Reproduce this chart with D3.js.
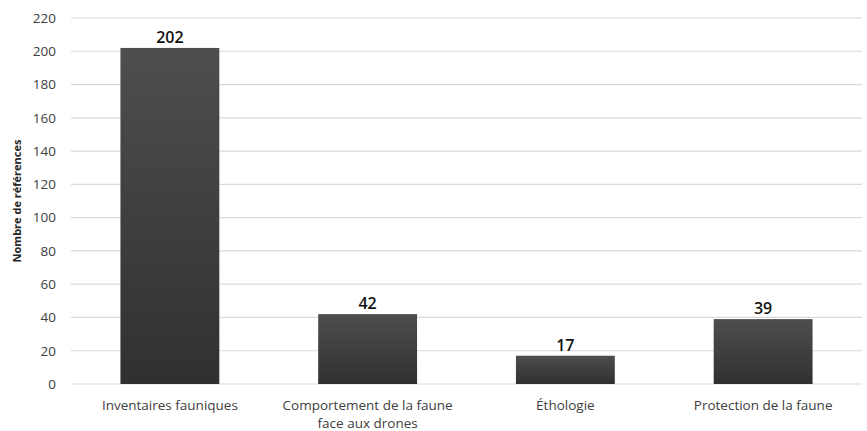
<!DOCTYPE html>
<html>
<head>
<meta charset="utf-8">
<script src="https://cdn.jsdelivr.net/npm/d3@7"></script>
<style>
  body { margin: 0; background: #fff; }
  text { font-family: "Open Sans", "Liberation Sans", sans-serif; }
</style>
</head>
<body>
<script>
// chart data
const categories = ['Inventaires fauniques', 'Comportement de la faune face aux drones', 'Éthologie', 'Protection de la faune'];
const categoryLines = [['Inventaires fauniques'], ['Comportement de la faune', 'face aux drones'], ['Éthologie'], ['Protection de la faune']];
const values = [202, 42, 17, 39];
const yTicks = [0, 20, 40, 60, 80, 100, 120, 140, 160, 180, 200, 220];

const width = 867;
const height = 431;
const margin = { top: 18, right: 5, bottom: 47, left: 71 };

const svg = d3.select('body')
  .append('svg')
  .attr('width', width)
  .attr('height', height);

// gradient for the bars
const grad = svg.append('defs').append('linearGradient')
  .attr('id', 'barGrad')
  .attr('x1', 0).attr('y1', 0).attr('x2', 0).attr('y2', 1);
grad.append('stop').attr('offset', '0%').attr('stop-color', '#4e4e4e');
grad.append('stop').attr('offset', '100%').attr('stop-color', '#303030');

const x = d3.scaleBand()
  .domain(categories)
  .range([margin.left, width - margin.right])
  .paddingInner(0.5)
  .paddingOuter(0.25);

const y = d3.scaleLinear()
  .domain([0, 220])
  .range([height - margin.bottom, margin.top]);

// horizontal gridlines
svg.append('g')
  .selectAll('line')
  .data(yTicks)
  .enter()
  .append('line')
  .attr('x1', margin.left)
  .attr('x2', width - margin.right)
  .attr('y1', d => y(d))
  .attr('y2', d => y(d))
  .attr('stroke', '#d9d9d9')
  .attr('stroke-width', 1.2);

// y axis labels
const yAxis = svg.append('g')
  .attr('transform', `translate(${margin.left},0)`)
  .call(d3.axisLeft(y).tickValues(yTicks).tickSize(0).tickPadding(15));
yAxis.select('.domain').remove();
yAxis.selectAll('text')
  .attr('font-size', 13.5)
  .attr('fill', '#404040')
  .style('font-family', '"Open Sans", sans-serif');

// y axis title
svg.append('text')
  .attr('transform', `translate(21, ${y(110)}) rotate(-90)`)
  .attr('text-anchor', 'middle')
  .attr('font-size', 11)
  .attr('font-weight', 'bold')
  .attr('fill', '#262626')
  .text('Nombre de références');

// bars
svg.append('g')
  .selectAll('rect')
  .data(values)
  .enter()
  .append('rect')
  .attr('x', (d, i) => x(categories[i]))
  .attr('y', d => y(d))
  .attr('width', x.bandwidth())
  .attr('height', d => y(0) - y(d))
  .attr('fill', 'url(#barGrad)');

// value labels
svg.append('g')
  .selectAll('text')
  .data(values)
  .enter()
  .append('text')
  .attr('x', (d, i) => x(categories[i]) + x.bandwidth() / 2)
  .attr('y', d => y(d) - 5)
  .attr('text-anchor', 'middle')
  .attr('font-size', 16)
  .attr('font-weight', 600)
  .attr('fill', '#111')
  .text(d => d);

// category labels
const catG = svg.append('g')
  .selectAll('text')
  .data(categories)
  .enter()
  .append('text')
  .attr('x', d => x(d) + x.bandwidth() / 2)
  .attr('y', y(0) + 26)
  .attr('text-anchor', 'middle')
  .attr('font-size', 13.5)
  .attr('fill', '#404040');

catG.selectAll('tspan')
  .data((d, i) => categoryLines[i])
  .enter()
  .append('tspan')
  .attr('x', function () { return this.parentNode.getAttribute('x'); })
  .attr('dy', (d, i) => i === 0 ? 0 : 18)
  .text(d => d);
</script>
</body>
</html>
